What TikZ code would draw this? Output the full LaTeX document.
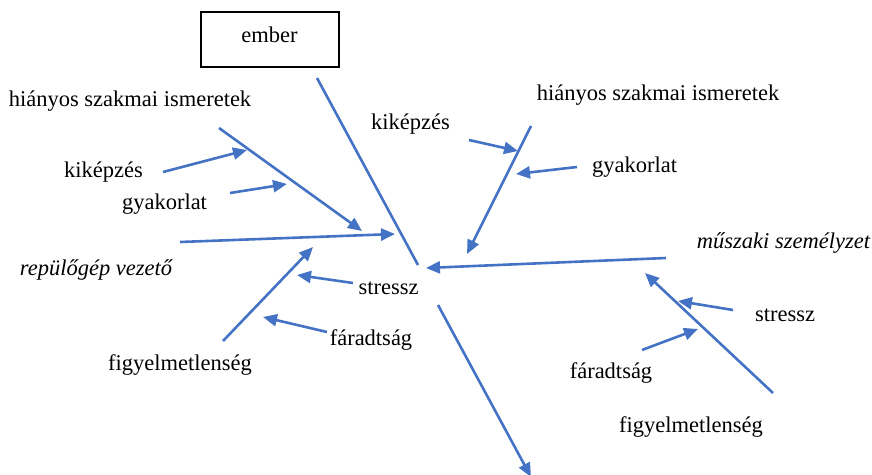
\documentclass[tikz,border=0pt]{standalone}
\usepackage{fontspec}
\setmainfont{Liberation Serif}
\usetikzlibrary{arrows.meta}
\definecolor{fishblue}{RGB}{68,114,196}
\tikzset{
  lbl/.style={anchor=base, inner sep=0pt, font=\fontsize{22.5}{26}\selectfont},
  ilbl/.style={lbl, font=\fontsize{22.5}{26}\selectfont\itshape},
  bone/.style={draw=fishblue, line width=2.6pt},
  arr/.style={bone, -{Triangle[length=14pt,width=12pt]}},
}
\begin{document}
\begin{tikzpicture}[x=1pt,y=-1pt]
\useasboundingbox (0,0) rectangle (872,474);
% box
\node[draw, line width=1.4pt, minimum width=138pt, minimum height=55pt, inner sep=0pt] (box) at (270,39.5) {};
\node[lbl] (ember) at (269.5,42) {ember};
% labels left
\node[lbl] (hl) at (130,106) {hiányos szakmai ismeretek};
\node[lbl] (kl) at (103.5,177) {kiképzés};
\node[lbl] (gl) at (164.5,209) {gyakorlat};
\node[ilbl] (rv) at (96,275) {repülőgép vezető};
\node[lbl] (sl) at (388.5,294) {stressz};
\node[lbl] (fl) at (371,345) {fáradtság};
\node[lbl] (yl) at (180,370) {figyelmetlenség};
% labels right
\node[lbl] (hr) at (658,100) {hiányos szakmai ismeretek};
\node[lbl] (kr) at (410.5,129) {kiképzés};
\node[lbl] (gr) at (634.5,172) {gyakorlat};
\node[ilbl] (ms) at (783.5,248) {műszaki személyzet};
\node[lbl] (sr) at (785,321) {stressz};
\node[lbl] (fr) at (611,378) {fáradtság};
\node[lbl] (yr) at (691,432) {figyelmetlenség};
% coordinates
\coordinate (m1) at (317,78);
\coordinate (m2) at (418,265);
\coordinate (hlA) at (219,128);
\coordinate (hlB) at (362,231);
\coordinate (klA) at (163,172);
\coordinate (klB) at (247,150);
\coordinate (glA) at (230,193);
\coordinate (glB) at (287,184);
\coordinate (rvA) at (180,242);
\coordinate (rvB) at (395,234);
\coordinate (ylA) at (223,341);
\coordinate (ylB) at (313,247);
\coordinate (slA) at (353,283);
\coordinate (slB) at (297,275);
\coordinate (flA) at (327,332);
\coordinate (flB) at (263,317);
\coordinate (hrA) at (531,126);
\coordinate (hrB) at (467,254);
\coordinate (krA) at (469,140);
\coordinate (krB) at (518,151);
\coordinate (grA) at (577,167);
\coordinate (grB) at (516,174);
\coordinate (msA) at (666,258);
\coordinate (msB) at (426,268);
\coordinate (yrA) at (773,393);
\coordinate (yrB) at (645,273);
\coordinate (srA) at (733,310);
\coordinate (srB) at (678,301);
\coordinate (frA) at (642,350);
\coordinate (frB) at (698,329);
\coordinate (btA) at (438,305);
\coordinate (btB) at (531,477);
% bones
\draw[bone] (m1) -- (m2);
\draw[arr] (hlA) -- (hlB);
\draw[arr] (klA) -- (klB);
\draw[arr] (glA) -- (glB);
\draw[arr] (rvA) -- (rvB);
\draw[arr] (ylA) -- (ylB);
\draw[arr] (slA) -- (slB);
\draw[arr] (flA) -- (flB);
\draw[arr] (hrA) -- (hrB);
\draw[arr] (krA) -- (krB);
\draw[arr] (grA) -- (grB);
\draw[arr] (msA) -- (msB);
\draw[arr] (yrA) -- (yrB);
\draw[arr] (srA) -- (srB);
\draw[arr] (frA) -- (frB);
\draw[arr] (btA) -- (btB);
\end{tikzpicture}
\end{document}
